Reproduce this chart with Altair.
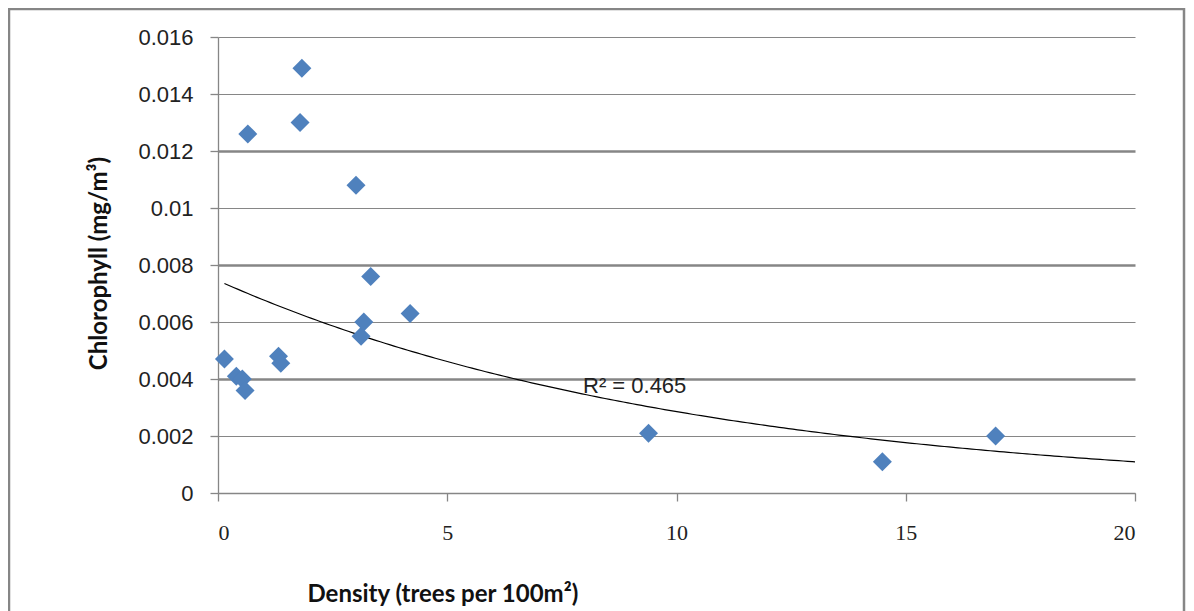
import altair as alt
import numpy as np
import pandas as pd

# ---- data ----
density = [0.14, 0.40, 0.53, 0.59, 0.65, 1.32, 1.37, 1.79, 1.83, 3.01, 3.12, 3.18, 3.33, 4.19, 9.39, 14.49, 16.96]
chlorophyll = [0.0047, 0.0041, 0.0040, 0.0036, 0.0126, 0.0048, 0.00455, 0.0130, 0.0149, 0.0108,
               0.0055, 0.0060, 0.0076, 0.0063, 0.0021, 0.0011, 0.0020]
x_ticks = [0, 5, 10, 15, 20]
y_ticks = [0, 0.002, 0.004, 0.006, 0.008, 0.01, 0.012, 0.014, 0.016]
r2_label = ["R² = 0.465"]
x_title = "Density (trees per 100m²)"
y_title = "Chlorophyll (mg/m³)"

df = pd.DataFrame({"density": density, "chl": chlorophyll})

# Excel-style exponential trendline (least squares on ln y)
b, ln_a = np.polyfit(np.array(density), np.log(np.array(chlorophyll)), 1)
a = float(np.exp(ln_a))
b = float(b)

W, H = 917, 456
GRAY = "#868686"

x_scale = alt.Scale(domain=[0, 20], nice=False, zero=False)
y_scale = alt.Scale(domain=[0, 0.016], nice=False)

x_axis = alt.Axis(
    values=x_ticks, grid=False, title=x_title,
    labelFont="Liberation Serif", labelFontSize=22, labelColor="#222222",
    labelBaseline="middle", labelPadding=31, tickSize=8, tickColor=GRAY, tickWidth=1.3,
    domainColor=GRAY, domainWidth=1.3,
    titleFont="Lato", titleFontSize=24, titleFontWeight="bold", titleColor="#111111",
    titleX=89, titleY=101, titleAlign="left", titleAnchor="start", titleBaseline="middle",
)
y_axis = alt.Axis(
    values=y_ticks, format="", title=y_title,
    labelExpr="datum.value == 0 ? '0' : format(datum.value, '.3~f')",
    labelFont="Liberation Sans", labelFontSize=22, labelColor="#222222",
    labelPadding=17, tickSize=8, tickColor=GRAY, tickWidth=1.3,
    domainColor=GRAY, domainWidth=1.3,
    grid=True, gridColor=GRAY,
    gridWidth={"condition": {"test": "abs(datum.value*250 - round(datum.value*250)) < 0.01 && datum.value > 0 && datum.value < 0.015",
                             "value": 2.3}, "value": 1.2},
    titleFont="Lato", titleFontSize=24, titleFontWeight="bold", titleColor="#111111",
    titleX=-119, titleY=226, titleAngle=270, titleAlign="center", titleBaseline="middle",
)

border = alt.Chart(pd.DataFrame({"k": [0]})).mark_rect(
    fillOpacity=0, stroke=GRAY, strokeWidth=2.5
).encode(
    x=alt.value(-209), x2=alt.value(W + 49), y=alt.value(-28), y2=alt.value(H + 160)
)

points = alt.Chart(df).mark_point(
    shape="diamond", filled=True, size=360, color="#4F81BD", opacity=1
).encode(
    x=alt.X("density:Q", scale=x_scale, axis=x_axis),
    y=alt.Y("chl:Q", scale=y_scale, axis=y_axis),
)

trend = alt.Chart(alt.sequence(min(density), 20.1, 0.1, as_="density")).transform_calculate(
    chl=f"{a} * exp({b} * datum.density)"
).mark_line(color="black", strokeWidth=1.2, clip=True).encode(
    x=alt.X("density:Q", scale=x_scale),
    y=alt.Y("chl:Q", scale=y_scale),
)

label = alt.Chart(pd.DataFrame({"t": r2_label})).mark_text(
    align="left", baseline="alphabetic", font="Liberation Sans", fontSize=22, color="#222222"
).encode(text="t:N", x=alt.value(365), y=alt.value(356))

chart = alt.layer(border, trend, points, label).properties(
    width=W, height=H,
    autosize=alt.AutoSizeParams(type="none"),
    padding={"left": 210, "top": 29, "right": 51, "bottom": 118},
).configure_view(strokeWidth=0)

chart.save("out.html", embed_options={"renderer": "svg", "actions": False})
